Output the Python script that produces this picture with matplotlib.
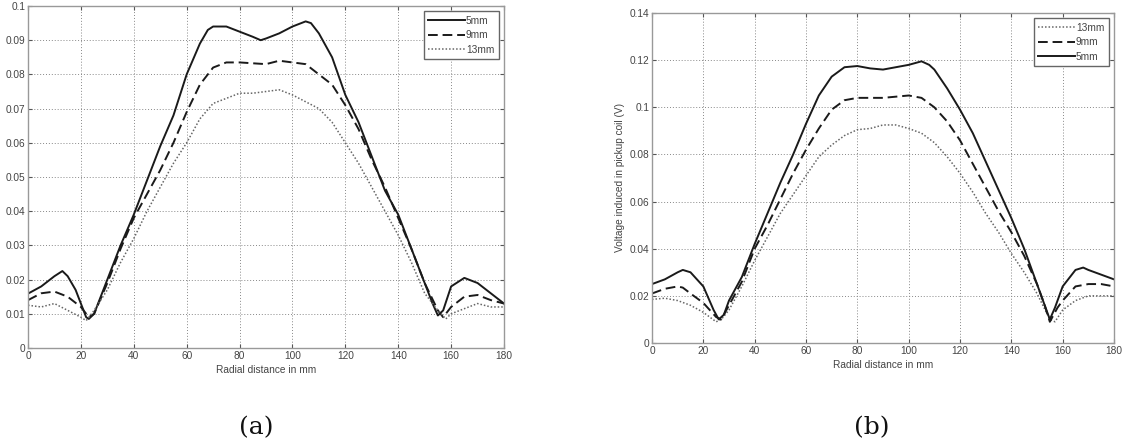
import matplotlib
matplotlib.use("Agg")
import matplotlib.pyplot as plt
import numpy as np

plt.rcParams['font.family'] = ['Liberation Sans', 'DejaVu Sans']

# ---- Panel (a) data ----
xa_5 = [0, 5, 10, 13, 15, 18, 20, 22, 23, 25, 28, 30, 35, 40, 45, 50, 55, 60, 65, 68, 70, 75, 80, 85, 88, 90, 95, 100, 105, 107, 110, 115, 120, 125, 130, 135, 140, 145, 150, 153, 155, 157, 160, 165, 170, 175, 180]
ya_5 = [0.0159, 0.018, 0.021, 0.0225, 0.021, 0.017, 0.013, 0.009, 0.0085, 0.010, 0.016, 0.020, 0.030, 0.039, 0.049, 0.059, 0.068, 0.080, 0.089, 0.093, 0.094, 0.094, 0.0925, 0.091, 0.090, 0.0905, 0.092, 0.094, 0.0955, 0.095, 0.092, 0.085, 0.074, 0.066, 0.056, 0.046, 0.039, 0.029, 0.019, 0.013, 0.0095, 0.011, 0.018, 0.0205, 0.019, 0.016, 0.013]

xa_9 = [0, 5, 10, 15, 20, 23, 25, 30, 35, 40, 45, 50, 55, 60, 65, 70, 75, 80, 90, 95, 100, 105, 110, 115, 120, 125, 130, 135, 140, 145, 150, 155, 157, 160, 165, 170, 175, 180]
ya_9 = [0.014, 0.016, 0.0165, 0.015, 0.012, 0.009, 0.010, 0.019, 0.029, 0.038, 0.045, 0.052, 0.060, 0.069, 0.077, 0.082, 0.0835, 0.0835, 0.083, 0.084, 0.0835, 0.083, 0.080, 0.077, 0.071, 0.064, 0.055, 0.047, 0.038, 0.029, 0.019, 0.011, 0.009, 0.012, 0.015, 0.0155, 0.014, 0.013]

xa_13 = [0, 5, 10, 15, 20, 22, 25, 30, 35, 40, 45, 50, 55, 60, 65, 70, 75, 80, 85, 90, 95, 100, 105, 110, 115, 120, 125, 130, 135, 140, 145, 150, 155, 158, 160, 165, 170, 175, 180]
ya_13 = [0.0125, 0.012, 0.013, 0.011, 0.009, 0.008, 0.011, 0.017, 0.025, 0.032, 0.040, 0.047, 0.054, 0.060, 0.067, 0.0715, 0.073, 0.0745, 0.0745, 0.075, 0.0755, 0.074, 0.072, 0.070, 0.066, 0.060, 0.054, 0.047, 0.040, 0.033, 0.025, 0.016, 0.011, 0.0085, 0.010, 0.0115, 0.013, 0.012, 0.012]

# ---- Panel (b) data ----
xb_5 = [0, 5, 10, 12, 15, 20, 24, 26, 28, 30, 35, 40, 45, 50, 55, 60, 65, 70, 75, 80, 85, 90, 95, 100, 105, 108, 110, 115, 120, 125, 130, 135, 140, 145, 150, 153, 155, 157, 160, 165, 168, 170, 175, 180]
yb_5 = [0.025, 0.027, 0.030, 0.031, 0.030, 0.024, 0.014, 0.010, 0.012, 0.018, 0.028, 0.042, 0.055, 0.068, 0.080, 0.093, 0.105, 0.113, 0.117, 0.1175, 0.1165, 0.116, 0.117, 0.118, 0.1195, 0.118, 0.116, 0.108, 0.099, 0.089, 0.077, 0.065, 0.053, 0.040, 0.025, 0.016, 0.010, 0.015, 0.024, 0.031, 0.032, 0.031, 0.029, 0.027]

xb_9 = [0, 5, 10, 12, 15, 20, 25, 27, 30, 35, 40, 45, 50, 55, 60, 65, 70, 75, 80, 90, 100, 105, 110, 115, 120, 125, 130, 135, 140, 145, 150, 153, 155, 158, 160, 165, 170, 175, 180]
yb_9 = [0.021, 0.023, 0.024, 0.0235, 0.021, 0.017, 0.011, 0.010, 0.016, 0.026, 0.040, 0.050, 0.061, 0.072, 0.082, 0.091, 0.099, 0.103, 0.104, 0.104, 0.105, 0.104, 0.100, 0.094, 0.086, 0.076, 0.066, 0.056, 0.047, 0.037, 0.025, 0.016, 0.009, 0.015, 0.018, 0.024, 0.025, 0.025, 0.024]

xb_13 = [0, 5, 10, 15, 20, 25, 27, 30, 35, 40, 45, 50, 55, 60, 65, 70, 75, 80, 85, 90, 95, 100, 105, 110, 115, 120, 125, 130, 135, 140, 145, 150, 155, 157, 160, 165, 170, 175, 180]
yb_13 = [0.0185, 0.019, 0.018, 0.016, 0.013, 0.009, 0.010, 0.014, 0.024, 0.035, 0.045, 0.055, 0.063, 0.071, 0.079, 0.084, 0.088, 0.0905, 0.091, 0.0925, 0.0925, 0.091, 0.089, 0.085, 0.079, 0.072, 0.064, 0.055, 0.047, 0.038, 0.030, 0.021, 0.010, 0.009, 0.014, 0.018, 0.020, 0.020, 0.020]

xticks = [0, 20, 40, 60, 80, 100, 120, 140, 160, 180]
yticks_a = [0, 0.01, 0.02, 0.03, 0.04, 0.05, 0.06, 0.07, 0.08, 0.09, 0.1]
yticklabels_a = ['0', '0.01', '0.02', '0.03', '0.04', '0.05', '0.06', '0.07', '0.08', '0.09', '0.1']
yticks_b = [0, 0.02, 0.04, 0.06, 0.08, 0.1, 0.12, 0.14]
yticklabels_b = ['0', '0.02', '0.04', '0.06', '0.08', '0.1', '0.12', '0.14']

W, H = 1126, 444
fig = plt.figure(figsize=(W / 100, H / 100), dpi=100)

def rect(x0, x1, y0, y1):
    return [x0 / W, 1 - y1 / H, (x1 - x0) / W, (y1 - y0) / H]

ax_a = fig.add_axes(rect(28, 504, 6, 348))
ax_b = fig.add_axes(rect(652, 1114, 13, 343))

txt = '#444444'
solid = dict(color='#1a1a1a', lw=1.4, linestyle='-')
dashed = dict(color='#1a1a1a', lw=1.4, linestyle=(0, (5, 2.5)))
dotted = dict(color='#666666', lw=1.1, linestyle=(0, (1, 1.3)))

def style(ax, yticks, ylabels, ymax):
    ax.set_xlim(0, 180)
    ax.set_ylim(0, ymax)
    ax.set_xticks(xticks)
    ax.set_xticklabels([str(t) for t in xticks])
    ax.set_yticks(yticks)
    ax.set_yticklabels(ylabels)
    ax.grid(True, linestyle=(0, (1, 2)), color='#888888', lw=0.7)
    ax.tick_params(direction='in', top=True, right=True, labelsize=7.3,
                   colors='#555555', labelcolor=txt, length=3, pad=2)
    for s in ax.spines.values():
        s.set_color('#999999')
        s.set_linewidth(1.0)
    ax.set_xlabel('Radial distance in mm', fontsize=7.3, color=txt, labelpad=3)

def add_legend(ax):
    leg = ax.legend(loc='upper right', fontsize=7.3, handlelength=3.6, handletextpad=0.1,
                    fancybox=False, edgecolor='#666666', framealpha=1,
                    borderpad=0.45, labelspacing=0.45, borderaxespad=0.5)
    leg.get_frame().set_linewidth(1.0)
    for t in leg.get_texts():
        t.set_color(txt)

ax_a.plot(xa_5, ya_5, label='5mm', **solid)
ax_a.plot(xa_9, ya_9, label='9mm', **dashed)
ax_a.plot(xa_13, ya_13, label='13mm', **dotted)
style(ax_a, yticks_a, yticklabels_a, 0.1)
add_legend(ax_a)

ax_b.plot(xb_13, yb_13, label='13mm', **dotted)
ax_b.plot(xb_9, yb_9, label='9mm', **dashed)
ax_b.plot(xb_5, yb_5, label='5mm', **solid)
style(ax_b, yticks_b, yticklabels_b, 0.14)
ax_b.set_ylabel('Voltage induced in pickup coil (V)', fontsize=7.3, color=txt, labelpad=3)
add_legend(ax_b)

fig.text(256 / W, 1 - 416 / H, '(a)', family='DejaVu Serif', fontsize=18,
         ha='center', va='top', color='#111111')
fig.text(872 / W, 1 - 416 / H, '(b)', family='DejaVu Serif', fontsize=18,
         ha='center', va='top', color='#111111')

fig.savefig('out.png', dpi=100, facecolor='white')
